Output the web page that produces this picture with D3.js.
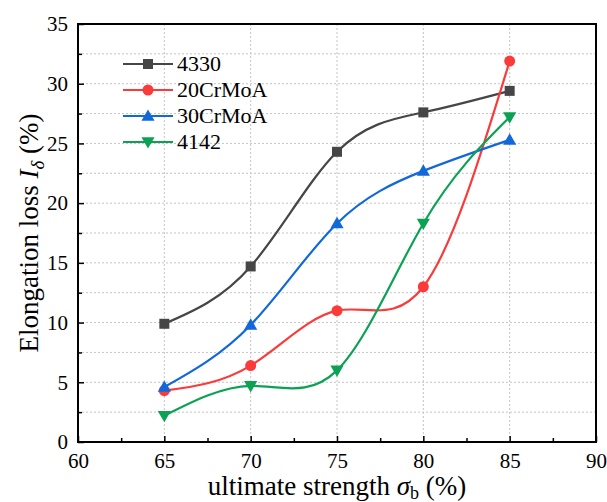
<!DOCTYPE html>
<html>
<head>
<meta charset="utf-8">
<script src="https://cdn.jsdelivr.net/npm/d3@7/dist/d3.min.js"></script>
<style>
  body { margin: 0; background: #fff; }
  svg text { font-family: "Liberation Serif", "Times New Roman", serif; fill: #000; }
</style>
</head>
<body>
<svg id="chart" width="607" height="502"></svg>
<script>
// strength levels (x) and elongation loss per steel grade
const strength = [65, 70, 75, 80, 85];
const s4330 = [9.9, 14.7, 24.3, 27.6, 29.4];
const s20CrMoA = [4.3, 6.4, 11.0, 13.0, 31.9];
const s30CrMoA = [4.6, 9.8, 18.3, 22.7, 25.3];
const s4142 = [2.2, 4.7, 6.0, 18.3, 27.2];
const seriesNames = ['4330', '20CrMoA', '30CrMoA', '4142'];
const xTicks = [60, 65, 70, 75, 80, 85, 90];
const yTicks = [0, 5, 10, 15, 20, 25, 30, 35];

const series = [
  { name: seriesNames[0], values: s4330, color: '#464646', marker: 'square' },
  { name: seriesNames[1], values: s20CrMoA, color: '#fb3a3a', marker: 'circle' },
  { name: seriesNames[2], values: s30CrMoA, color: '#1168da', marker: 'triangle' },
  { name: seriesNames[3], values: s4142, color: '#0ba254', marker: 'triangleDown' }
];

const margin = { left: 78, top: 24, right: 11, bottom: 60 };
const W = 607, H = 502;
const svg = d3.select('#chart');

const x = d3.scaleLinear().domain([60, 90]).range([margin.left, W - margin.right]);
const y = d3.scaleLinear().domain([0, 35]).range([H - margin.bottom, margin.top]);

// grid: horizontal every 2.5, vertical at majors only
const grid = svg.append('g').attr('stroke', '#c4c4c4').attr('stroke-width', 1).attr('stroke-dasharray', '2,2');
d3.range(2.5, 35, 2.5).forEach(v => {
  grid.append('line').attr('x1', x(60)).attr('x2', x(90)).attr('y1', y(v)).attr('y2', y(v));
});
xTicks.slice(1, -1).forEach(v => {
  grid.append('line').attr('x1', x(v)).attr('x2', x(v)).attr('y1', y(0)).attr('y2', y(35));
});

// axes with inward ticks
const xAxis = svg.append('g').attr('transform', `translate(0,${y(0)})`)
  .call(d3.axisBottom(x).tickValues(xTicks).tickSizeInner(-6).tickSizeOuter(0).tickPadding(11));
const xMinor = svg.append('g').attr('transform', `translate(0,${y(0)})`)
  .call(d3.axisBottom(x).tickValues(d3.range(62.5, 90, 5)).tickSizeInner(-4).tickSizeOuter(0).tickFormat(''));
const yAxis = svg.append('g').attr('transform', `translate(${x(60)},0)`)
  .call(d3.axisLeft(y).tickValues(yTicks).tickSizeInner(-6).tickSizeOuter(0).tickPadding(10));
const yMinor = svg.append('g').attr('transform', `translate(${x(60)},0)`)
  .call(d3.axisLeft(y).tickValues(d3.range(2.5, 35, 5)).tickSizeInner(-4).tickSizeOuter(0).tickFormat(''));

[xAxis, xMinor, yAxis, yMinor].forEach(a => {
  a.select('.domain').remove();
  a.selectAll('line').attr('stroke', '#000').attr('stroke-width', 1.5);
  a.selectAll('text').style('font-family', '"Liberation Serif", serif').style('font-size', '21px').attr('fill', '#000');
});

// frame
svg.append('rect').attr('x', x(60)).attr('y', y(35)).attr('width', x(90) - x(60)).attr('height', y(0) - y(35))
  .attr('fill', 'none').attr('stroke', '#000').attr('stroke-width', 2);

// curves
const line = d3.line().x((d, i) => x(strength[i])).y(d => y(d)).curve(d3.curveNatural);

function drawMarker(g, type, cx, cy, color) {
  if (type === 'square') {
    g.append('rect').attr('x', cx - 5).attr('y', cy - 5).attr('width', 10).attr('height', 10).attr('fill', color);
  } else if (type === 'circle') {
    g.append('circle').attr('cx', cx).attr('cy', cy).attr('r', 5.5).attr('fill', color);
  } else {
    const sym = d3.symbol().type(d3.symbolTriangle).size(75);
    g.append('path').attr('d', sym()).attr('fill', color)
      .attr('transform', `translate(${cx},${cy + (type === 'triangle' ? 1 : -1)}) rotate(${type === 'triangle' ? 0 : 180})`);
  }
}

series.forEach(s => {
  const g = svg.append('g');
  g.append('path').datum(s.values).attr('d', line).attr('fill', 'none').attr('stroke', s.color).attr('stroke-width', 2.2);
  s.values.forEach((v, i) => drawMarker(g, s.marker, x(strength[i]), y(v), s.color));
});

// legend
const legend = svg.append('g');
series.forEach((s, i) => {
  const ly = 64 + i * 26;
  legend.append('line').attr('x1', 123).attr('x2', 173).attr('y1', ly).attr('y2', ly).attr('stroke', s.color).attr('stroke-width', 2.2);
  drawMarker(legend, s.marker, 148, ly, s.color);
  legend.append('text').attr('x', 177).attr('y', ly + 7).style('font-size', '22px').text(s.name);
});

// axis titles
const xt = svg.append('text').attr('x', (x(60) + x(90)) / 2).attr('y', 495).attr('text-anchor', 'middle').style('font-size', '27px');
xt.append('tspan').text('ultimate strength ');
xt.append('tspan').style('font-style', 'italic').text('σ');
xt.append('tspan').attr('dy', 4).style('font-size', '18px').text('b');
xt.append('tspan').attr('dy', -4).text(' (%)');

const yt = svg.append('text').attr('transform', `translate(38,${(y(0) + y(35)) / 2}) rotate(-90)`)
  .attr('text-anchor', 'middle').style('font-size', '27px');
yt.append('tspan').text('Elongation loss ');
yt.append('tspan').style('font-style', 'italic').text('I');
yt.append('tspan').attr('dy', 6).style('font-style', 'italic').style('font-size', '19px').text('δ');
yt.append('tspan').attr('dy', -6).text(' (%)');
</script>
</body>
</html>
